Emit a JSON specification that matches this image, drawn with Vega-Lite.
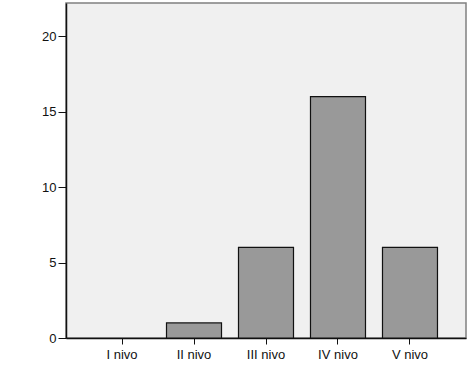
{
  "$schema": "https://vega.github.io/schema/vega-lite/v6.json",
  "width": 400,
  "height": 335,
  "autosize": {"type": "none"},
  "padding": {"left": 66, "top": 3, "right": 6, "bottom": 28},
  "background": "white",
  "data": {"values": [
    {"nivo": "I nivo", "count": 0},
    {"nivo": "II nivo", "count": 1},
    {"nivo": "III nivo", "count": 6},
    {"nivo": "IV nivo", "count": 16},
    {"nivo": "V nivo", "count": 6}
  ]},
  "mark": {"type": "bar", "fill": "#999999", "stroke": "#111111", "strokeWidth": 1.2},
  "encoding": {
    "x": {
      "field": "nivo", "type": "nominal", "sort": null,
      "scale": {"paddingInner": 0.236, "paddingOuter": 0.396},
      "axis": {"title": null, "labelAngle": 0, "labelFont": "Liberation Sans", "labelFontSize": 13, "labelColor": "#111", "tickColor": "#111", "tickSize": 6, "domainColor": "#111", "domainWidth": 1.5, "labelPadding": 4}
    },
    "y": {
      "field": "count", "type": "quantitative",
      "scale": {"domain": [0, 22.2], "nice": false},
      "axis": {"title": null, "values": [0, 5, 10, 15, 20], "grid": false, "labelFont": "Liberation Sans", "labelFontSize": 13, "labelColor": "#111", "tickColor": "#111", "tickSize": 8, "domainColor": "#111", "domainWidth": 1.5, "labelPadding": 2}
    },
    "strokeOpacity": {"condition": {"test": "datum.count > 0", "value": 1}, "value": 0}
  },
  "config": {
    "view": {"fill": "#f0f0f0", "stroke": "#808080", "strokeWidth": 1.5}
  }
}
